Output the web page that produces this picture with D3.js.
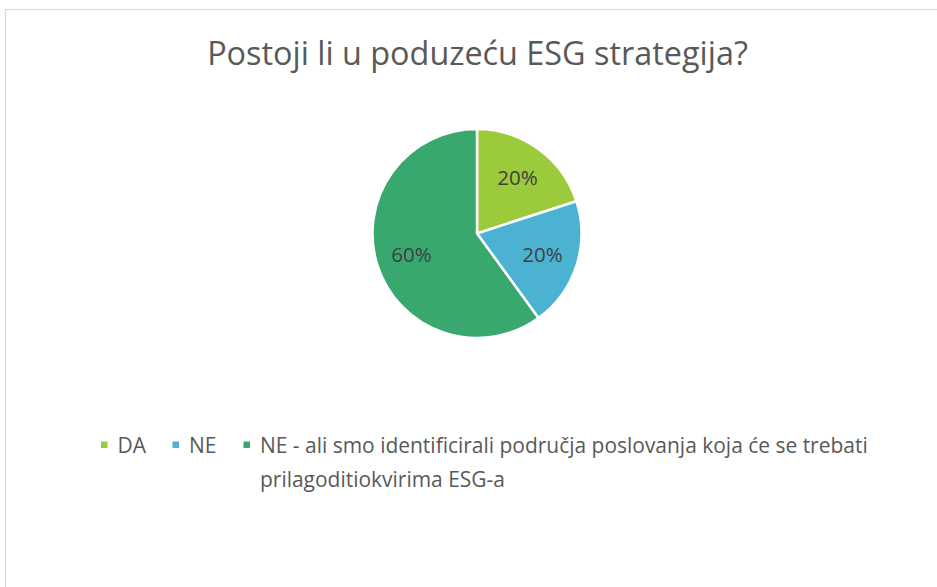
<!DOCTYPE html>
<html>
<head>
<meta charset="utf-8">
<script src="https://cdn.jsdelivr.net/npm/d3@7"></script>
<style>
  html, body { margin: 0; padding: 0; background: #ffffff; }
  svg { display: block; }
</style>
</head>
<body>
<svg id="chart" width="937" height="587"></svg>
<script>
// Survey answers and their shares
const categories = ["DA", "NE", "NE - ali smo identificirali područja poslovanja koja će se trebati prilagoditiokvirima ESG-a"];
const legendLines = [["DA"], ["NE"], ["NE - ali smo identificirali područja poslovanja koja će se trebati", "prilagoditiokvirima ESG-a"]];
const shares = [20, 20, 60];
const colors = ["#9BCB3B", "#4BB3D1", "#38A86E"];
const titleText = "Postoji li u poduzeću ESG strategija?";

const FONT = "'Open Sans', 'Noto Sans', sans-serif";
const svg = d3.select("#chart");

// Outer chart frame (only top and left edges fall inside the view)
svg.append("rect")
  .attr("x", 5.5).attr("y", 9.5)
  .attr("width", 960).attr("height", 620)
  .attr("fill", "#ffffff")
  .attr("stroke", "#d9d9d9")
  .attr("stroke-width", 1.2);

// Shrink or grow a text element so it spans a given width
function fitWidth(sel, target) {
  const fs = parseFloat(sel.attr("font-size"));
  const w = sel.node().getComputedTextLength();
  if (w > 0) sel.attr("font-size", (fs * target / w).toFixed(2));
}

// Title
const title = svg.append("text")
  .attr("x", 477.5).attr("y", 65)
  .attr("text-anchor", "middle")
  .attr("font-family", FONT)
  .attr("font-size", 31)
  .attr("fill", "#595959")
  .text(titleText);
fitWidth(title, 541);

// Pie
const cx = 477, cy = 233.5, R = 104.5;
const pie = d3.pie().sort(null).value(d => d)(shares);
const arc = d3.arc().innerRadius(0).outerRadius(R);
const labelArc = d3.arc().innerRadius(R * 0.66).outerRadius(R * 0.66);

const g = svg.append("g").attr("transform", `translate(${cx},${cy})`);
g.selectAll("path.slice")
  .data(pie)
  .join("path")
  .attr("class", "slice")
  .attr("d", arc)
  .attr("fill", (d, i) => colors[i])
  .attr("stroke", "#ffffff")
  .attr("stroke-width", 2.5)
  .attr("stroke-linejoin", "round");

const fmt = d3.format(".0%");
const total = d3.sum(shares);
g.selectAll("text.val")
  .data(pie)
  .join("text")
  .attr("class", "val")
  .attr("transform", d => { const [x, y] = labelArc.centroid(d); return `translate(${x},${y})`; })
  .attr("text-anchor", "middle")
  .attr("dy", "0.36em")
  .attr("font-family", FONT)
  .attr("font-size", 19)
  .attr("fill", "#404040")
  .text(d => fmt(d.data / total))
  .each(function () { fitWidth(d3.select(this), 40.5); });

// Legend: one swatch per category, long entry wraps onto a second line
const legend = svg.append("g");
const swatchX = [101, 172.5, 243.5];
const legendY = 452.5;   // baseline of the first legend line
const lineGap = 34;
const texts = [];
legendLines.forEach((lines, i) => {
  legend.append("rect")
    .attr("x", swatchX[i]).attr("y", 441.5)
    .attr("width", 6.5).attr("height", 6.5)
    .attr("fill", colors[i]);
  lines.forEach((ln, j) => {
    texts.push(legend.append("text")
      .attr("x", swatchX[i] + 16.5)
      .attr("y", legendY + j * lineGap)
      .attr("font-family", FONT)
      .attr("font-size", 19)
      .attr("fill", "#595959")
      .text(ln));
  });
});
// Size all legend text from the long entry's first line
(function () {
  const w = texts[2].node().getComputedTextLength();
  const fs = 19 * (868 - 260) / w;
  texts.forEach(t => t.attr("font-size", fs.toFixed(2)));
})();
</script>
</body>
</html>
